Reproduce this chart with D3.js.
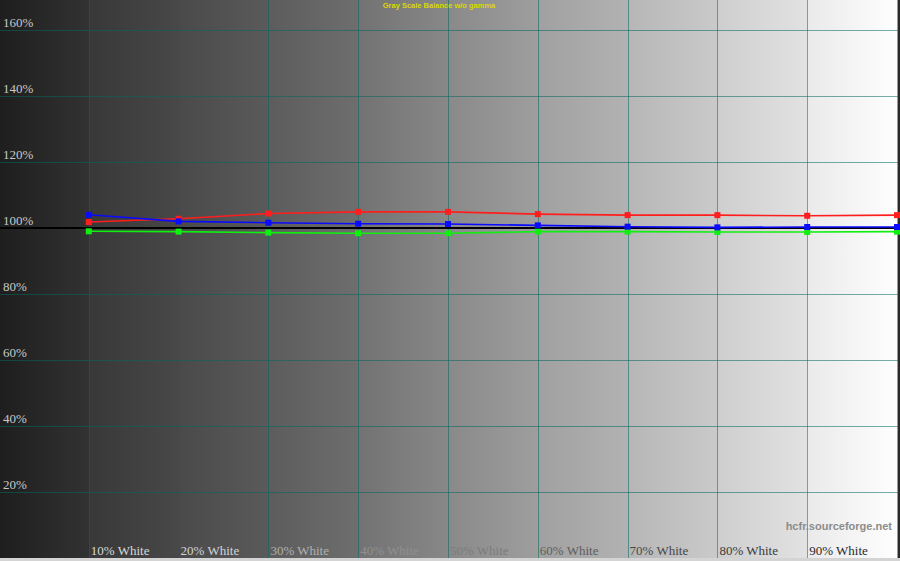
<!DOCTYPE html>
<meta charset="utf-8">
<style>
body { margin: 0; background: #fff; }
svg { display: block; }
.ylab { font: 13px "Liberation Serif", serif; fill: #c8c8c8; }
.xlab { font: 13px "Liberation Serif", serif; }
.grid line { stroke: #08665c; stroke-opacity: 0.55; stroke-width: 1; }
</style>
<body>
<svg width="900" height="561"></svg>
<script src="https://cdn.jsdelivr.net/npm/d3@7"></script>
<script>
// measured levels (percent white) and channel balance (%)
var levels = [10, 20, 30, 40, 50, 60, 70, 80, 90, 100];
var red   = [101.8, 102.8, 104.4, 104.9, 104.9, 104.2, 103.9, 103.9, 103.7, 103.9];
var blue  = [104.0, 102.0, 101.6, 101.3, 101.2, 100.8, 100.4, 100.2, 100.3, 100.3];
var green = [99.0, 98.9, 98.6, 98.4, 98.4, 98.9, 98.9, 98.8, 98.8, 98.9];
var yTicks = [20, 40, 60, 80, 100, 120, 140, 160];
var xLabels = ["10% White", "20% White", "30% White", "40% White", "50% White",
               "60% White", "70% White", "80% White", "90% White"];
var xLabelColors = ["#d8d8d8", "#d2d2d2", "#b0b0b0", "#909090", "#7c7c7c",
                    "#5e5e5e", "#484848", "#3a3a3a", "#2a2a2a"];

var svg = d3.select("svg");

var x = d3.scaleLinear().domain([0, 100]).range([-1, 897]),
    y = d3.scaleLinear().domain([0, 170]).range([558, -3]);

// background: gray ramp, one slightly stepped band per level
var defs = svg.append("defs");
var grad = defs.append("linearGradient").attr("id", "ramp")
    .attr("gradientUnits", "userSpaceOnUse")
    .attr("x1", 0).attr("x2", 900).attr("y1", 0).attr("y2", 0);
var bandStart = ["#1e1e1e", "#383838", "#4a4a4a", "#5c5c5c", "#727272", "#898989", "#a0a0a0", "#b6b6b6", "#cecece", "#eaeaea"],
    bandEnd   = ["#323232", "#484848", "#5a5a5a", "#6e6e6e", "#888888", "#9e9e9e", "#b2b2b2", "#cacaca", "#e2e2e2", "#fefefe"];
d3.range(10).forEach(function(i) {
  var a = Math.max(0, x(i * 10)), b = x(i * 10 + 10);
  grad.append("stop").attr("offset", a / 900).attr("stop-color", bandStart[i]);
  grad.append("stop").attr("offset", b / 900).attr("stop-color", bandEnd[i]);
});
svg.append("rect").attr("width", 900).attr("height", 561).attr("fill", "url(#ramp)");

// bottom frame strip and right edge
svg.append("rect").attr("x", 0).attr("y", 558).attr("width", 900).attr("height", 3).attr("fill", "#d4d4d4");
svg.append("rect").attr("x", 898).attr("y", 0).attr("width", 2).attr("height", 558).attr("fill", "#2a2a2a");

// grid
var grid = svg.append("g").attr("class", "grid");
grid.selectAll(".h").data(yTicks).enter().append("line")
    .attr("x1", 0).attr("x2", 898)
    .attr("y1", function(d) { return Math.round(y(d)) + 0.5; })
    .attr("y2", function(d) { return Math.round(y(d)) + 0.5; });
grid.selectAll(".v").data(levels).enter().append("line")
    .attr("y1", 0).attr("y2", 558)
    .attr("x1", function(d) { return Math.round(x(d)) + 0.5; })
    .attr("x2", function(d) { return Math.round(x(d)) + 0.5; });

// y labels
svg.selectAll(".ylab").data(yTicks).enter().append("text")
    .attr("class", "ylab")
    .attr("x", 3)
    .attr("y", function(d) { return y(d) - 3; })
    .text(function(d) { return d + "%"; });

// x labels
svg.selectAll(".xlab").data(xLabels).enter().append("text")
    .attr("class", "xlab")
    .attr("x", function(d, i) { return x(levels[i]) + 2; })
    .attr("y", 555)
    .attr("fill", function(d, i) { return xLabelColors[i]; })
    .text(function(d) { return d; });

// reference 100% line
svg.append("line")
    .attr("x1", 0).attr("x2", 900)
    .attr("y1", y(100)).attr("y2", y(100))
    .attr("stroke", "#000").attr("stroke-width", 2);

var line = d3.line()
    .x(function(d, i) { return x(levels[i]); })
    .y(function(d) { return y(d); });

function series(values, color) {
  svg.append("path").datum(values)
      .attr("fill", "none")
      .attr("stroke", color)
      .attr("stroke-width", 1.6)
      .attr("d", line);
  svg.selectAll(null).data(values).enter().append("rect")
      .attr("x", function(d, i) { return x(levels[i]) - 3; })
      .attr("y", function(d) { return y(d) - 3; })
      .attr("width", 6).attr("height", 6)
      .attr("fill", color);
}
series(red, "#ff1e1e");
series(green, "#10f010");
series(blue, "#0a0aff");

// title and watermark
svg.append("text")
    .attr("x", 439).attr("y", 7.5)
    .attr("text-anchor", "middle")
    .style("font", "bold 7.5px 'Liberation Sans', sans-serif")
    .attr("fill", "#d9d900")
    .text("Gray Scale Balance w/o gamma");

svg.append("text")
    .attr("x", 892).attr("y", 530)
    .attr("text-anchor", "end")
    .style("font", "bold 11px 'Liberation Sans', sans-serif")
    .attr("fill", "#8c8c8c")
    .text("hcfr.sourceforge.net");
</script>
</body>
